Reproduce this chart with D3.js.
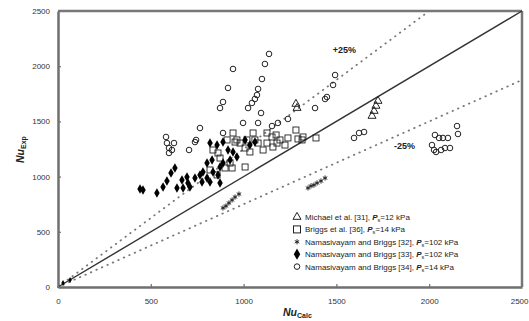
<!DOCTYPE html>
<html>
<head>
<meta charset="utf-8">
<script src="https://cdn.jsdelivr.net/npm/d3@7"></script>
<style>
  body { margin: 0; background: #fff; }
  svg { display: block; font-family: 'Liberation Sans', Arial, sans-serif; }
  .axis path, .axis line { stroke: #6f6f6f; }
  .axis text { fill: #333; font-size: 8px; }
</style>
</head>
<body>
<div id="chart"></div>
<script>
// Nu_calc / Nu_exp pairs
const michael = [[1282, 1658], [1288, 1621], [1692, 1549], [1703, 1594], [1713, 1640], [1724, 1685]];

const briggs = [[1126, 1395], [1153, 1359], [1175, 1377], [1196, 1332], [1239, 1350], [1282, 1422],
  [1293, 1341], [1223, 1286], [1158, 1268], [1105, 1241], [1034, 1223], [1008, 1259], [981, 1304],
  [1008, 1087], [938, 1078], [873, 1168], [862, 1214], [835, 1241], [954, 1313], [943, 1395],
  [1051, 1395], [1078, 1304], [1126, 1304], [1180, 1304], [1320, 1359], [1061, 1332], [1018, 1332],
  [964, 1332], [911, 1332], [927, 1123], [900, 1078], [857, 1015], [819, 1060], [1315, 1332], [1390, 1350]];

const nb32 = [[889, 716], [905, 734], [921, 761], [938, 788], [954, 815], [975, 842],
  [1347, 897], [1363, 915], [1379, 924], [1396, 942], [1417, 960], [1439, 987]];

const nb33 = [[27, 36], [65, 63], [442, 888], [458, 879], [533, 851], [566, 906], [587, 960], [609, 1033],
  [630, 1078], [641, 897], [668, 969], [695, 996], [711, 906], [674, 897], [700, 942], [738, 987],
  [765, 1015], [781, 1042], [803, 1123], [830, 1150], [819, 1304], [857, 1286], [889, 1313], [916, 1241],
  [943, 1223], [964, 1178], [927, 1150], [776, 951], [803, 987], [835, 1042], [873, 1087], [889, 1123],
  [819, 951], [862, 1015], [873, 942], [1008, 1331], [1034, 1286], [1061, 1313]];

const nb34 = [[582, 1359], [587, 1304], [598, 1259], [625, 1304], [614, 1241], [598, 1214], [765, 1440],
  [738, 1313], [706, 1241], [1137, 2111], [1115, 2020], [943, 1975], [1099, 1884], [916, 1803],
  [1078, 1794], [1072, 1739], [1061, 1703], [1045, 1667], [1024, 1621], [889, 1676], [873, 1621],
  [1094, 1576], [889, 1395], [997, 1486], [1078, 1486], [1239, 1522], [1185, 1486], [1153, 1458],
  [1493, 1920], [1482, 1830], [1449, 1721], [1439, 1703], [1385, 1621], [744, 1332], [1595, 1350],
  [1622, 1395], [1649, 1404], [2031, 1377], [2053, 1350], [2074, 1350], [2101, 1350], [2150, 1458],
  [2155, 1386], [2015, 1286], [2026, 1241], [2037, 1223], [2064, 1241], [2085, 1259], [2112, 1259]];

const ticks = [0, 500, 1000, 1500, 2000, 2500];
const bands = [{ k: 1.25, label: '+25%' }, { k: 0.75, label: '-25%' }];
const legendNames = ['Michael et al. [31], ', 'Briggs et al. [36], ', 'Namasivayam and Briggs [32], ',
  'Namasivayam and Briggs [33], ', 'Namasivayam and Briggs [34], '];
const legendPs = ['12 kPa', '14 kPa', '102 kPa', '102 kPa', '14 kPa'];

const width = 529, height = 321;
const margin = { top: 11, right: 7, bottom: 34, left: 58 };
const w = width - margin.left - margin.right;
const h = height - margin.top - margin.bottom;

const svg = d3.select('#chart').append('svg')
  .attr('width', width)
  .attr('height', height);

const g = svg.append('g')
  .attr('transform', 'translate(' + margin.left + ',' + margin.top + ')');

const x = d3.scaleLinear().domain([0, 2500]).range([0, w]);
const y = d3.scaleLinear().domain([0, 2500]).range([h, 0]);

// axes + box
g.append('g')
  .attr('class', 'axis')
  .attr('transform', 'translate(0,' + h + ')')
  .call(d3.axisBottom(x).tickValues(ticks).tickFormat(d3.format('d'))
    .tickSizeInner(3).tickSizeOuter(0).tickPadding(8))
  .call(a => a.selectAll('.tick line').attr('y2', -3))
  // last label would run off the right edge
  .call(a => a.selectAll('.tick text').filter(d => d === 2500)
    .attr('text-anchor', 'end').attr('dx', 6));

g.append('g')
  .attr('class', 'axis')
  .call(d3.axisLeft(y).tickValues(ticks).tickFormat(d3.format('d'))
    .tickSizeInner(3).tickSizeOuter(0).tickPadding(5))
  .call(a => a.selectAll('.tick line').attr('x2', 3));

g.selectAll('.axis path').attr('stroke-width', 2.5);
g.selectAll('.axis .tick line').attr('stroke-width', 1.2);

g.append('line').attr('x1', 0).attr('x2', w).attr('y1', 0).attr('y2', 0)
  .attr('stroke', '#777').attr('stroke-width', 2.5);
g.append('line').attr('x1', w).attr('x2', w).attr('y1', 0).attr('y2', h)
  .attr('stroke', '#777').attr('stroke-width', 2.5);

// 1:1 line and +-25% bands
g.append('line')
  .attr('x1', x(0)).attr('y1', y(0))
  .attr('x2', x(2500)).attr('y2', y(2500))
  .attr('stroke', '#333').attr('stroke-width', 1.4);

bands.forEach(b => {
  const xEnd = Math.min(2500, 2500 / b.k);
  g.append('line')
    .attr('x1', x(0)).attr('y1', y(0))
    .attr('x2', x(xEnd)).attr('y2', y(xEnd * b.k))
    .attr('stroke', '#777')
    .attr('stroke-width', 1.8)
    .attr('stroke-linecap', 'round')
    .attr('stroke-dasharray', '0.5,5.5');
});

g.append('text')
  .attr('x', x(1480)).attr('y', y(2120))
  .attr('font-size', 9).attr('font-weight', 'bold').attr('fill', '#222')
  .text(bands[0].label);
g.append('text')
  .attr('x', x(1810)).attr('y', y(1250))
  .attr('font-size', 9).attr('font-weight', 'bold').attr('fill', '#222')
  .text(bands[1].label);

// markers
const pts = g.append('g').attr('class', 'points');

pts.selectAll('.nb34').data(nb34).enter().append('circle')
  .attr('cx', d => x(d[0])).attr('cy', d => y(d[1])).attr('r', 2.8)
  .attr('fill', 'none').attr('stroke', '#222').attr('stroke-width', 1);

pts.selectAll('.briggs').data(briggs).enter().append('rect')
  .attr('x', d => x(d[0]) - 3).attr('y', d => y(d[1]) - 3)
  .attr('width', 6).attr('height', 6)
  .attr('fill', 'none').attr('stroke', '#222').attr('stroke-width', 0.9);

const tri = d3.symbol().type(d3.symbolTriangle).size(28);
pts.selectAll('.michael').data(michael).enter().append('path')
  .attr('d', tri)
  .attr('transform', d => 'translate(' + x(d[0]) + ',' + y(d[1]) + ')')
  .attr('fill', 'none').attr('stroke', '#222').attr('stroke-width', 1);

const dia = d3.symbol().type(d3.symbolDiamond).size(26);
pts.selectAll('.nb33').data(nb33).enter().append('path')
  .attr('d', (d, i) => i < 2 ? d3.symbol().type(d3.symbolDiamond).size(10)() : dia())
  .attr('transform', d => 'translate(' + x(d[0]) + ',' + y(d[1]) + ')')
  .attr('fill', '#000');

const ast = d3.symbol().type(d3.symbolAsterisk).size(18);
pts.selectAll('.nb32').data(nb32).enter().append('path')
  .attr('d', ast)
  .attr('transform', d => 'translate(' + x(d[0]) + ',' + y(d[1]) + ')')
  .attr('fill', 'none').attr('stroke', '#222').attr('stroke-width', 1);

// legend
const legend = svg.append('g').attr('transform', 'translate(297,217)');
const symbolsL = [
  s => s.append('path').attr('d', tri).attr('fill', 'none').attr('stroke', '#222'),
  s => s.append('rect').attr('x', -3.5).attr('y', -3.5).attr('width', 7).attr('height', 7)
    .attr('fill', 'none').attr('stroke', '#222'),
  s => s.append('path').attr('d', ast).attr('fill', 'none').attr('stroke', '#222'),
  s => s.append('path').attr('d', d3.symbol().type(d3.symbolDiamond).size(36)).attr('fill', '#000'),
  s => s.append('circle').attr('r', 2.8).attr('fill', 'none').attr('stroke', '#222')
];

legendNames.forEach((name, i) => {
  const row = legend.append('g').attr('transform', 'translate(0,' + (i * 12.4) + ')');
  symbolsL[i](row);
  const t = row.append('text')
    .attr('x', 8).attr('y', 3)
    .attr('font-size', 8).attr('fill', '#222');
  t.append('tspan').text(name);
  t.append('tspan').attr('font-style', 'italic').attr('font-weight', 'bold').text('P');
  t.append('tspan').attr('font-size', 5.5).attr('dy', 2).text('s');
  t.append('tspan').attr('dy', -2).text('=' + legendPs[i]);
});

// axis titles
const xt = svg.append('text')
  .attr('x', 283).attr('y', 316)
  .attr('font-size', 10.5).attr('font-weight', 'bold').attr('fill', '#222');
xt.append('tspan').attr('font-style', 'italic').text('Nu');
xt.append('tspan').attr('font-size', 7).attr('dy', 2).text('Calc');

const yt = svg.append('text')
  .attr('transform', 'translate(24,163) rotate(-90)')
  .attr('font-size', 10.5).attr('font-weight', 'bold').attr('fill', '#222');
yt.append('tspan').attr('font-style', 'italic').text('Nu');
yt.append('tspan').attr('font-size', 7).attr('dy', 2).text('Exp');
</script>
</body>
</html>
